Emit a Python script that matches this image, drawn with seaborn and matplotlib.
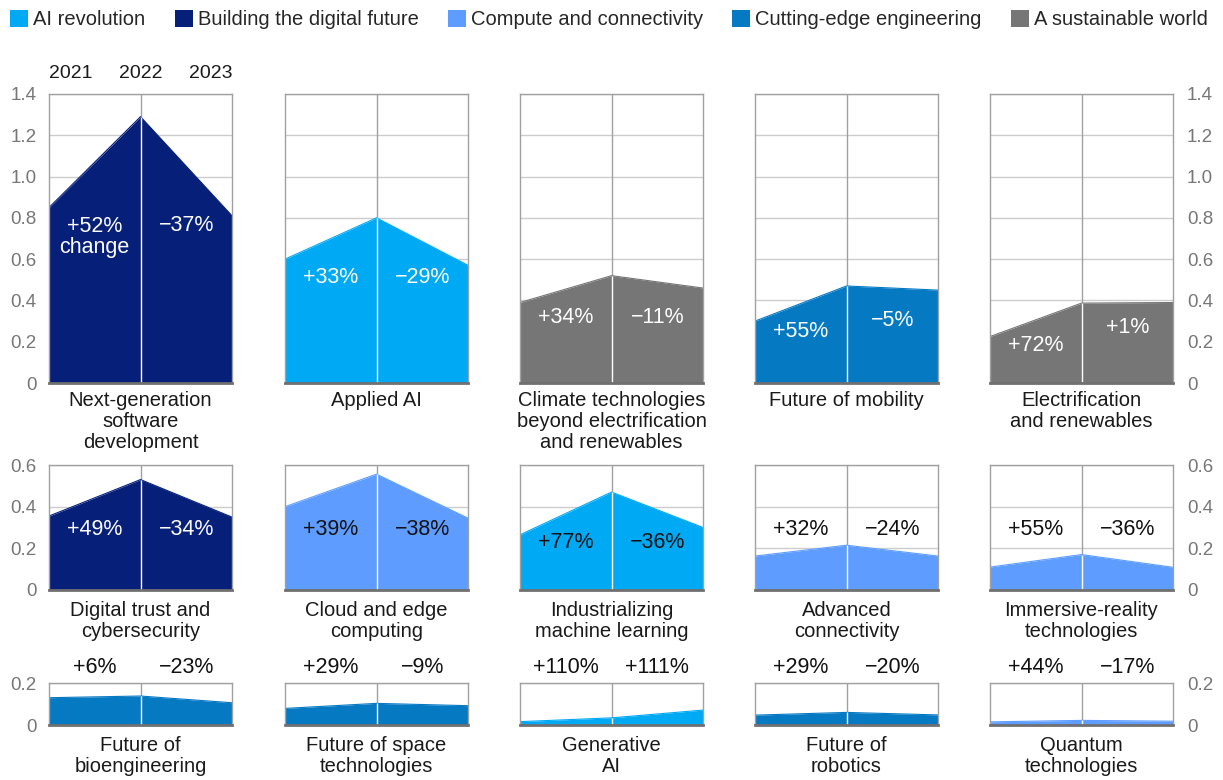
import numpy as np
import pandas as pd
import seaborn as sns
import matplotlib
matplotlib.use("Agg")
import matplotlib.pyplot as plt
from matplotlib.patches import Patch

# ---------------- data ----------------
years = [2021, 2022, 2023]

technologies = [
    "Next-generation\nsoftware\ndevelopment", "Applied AI",
    "Climate technologies\nbeyond electrification\nand renewables",
    "Future of mobility", "Electrification\nand renewables",
    "Digital trust and\ncybersecurity", "Cloud and edge\ncomputing",
    "Industrializing\nmachine learning", "Advanced\nconnectivity",
    "Immersive-reality\ntechnologies",
    "Future of\nbioengineering", "Future of space\ntechnologies",
    "Generative\nAI", "Future of\nrobotics", "Quantum\ntechnologies",
]

trends = [
    "Building the digital future", "AI revolution", "A sustainable world",
    "Cutting-edge engineering", "A sustainable world",
    "Building the digital future", "Compute and connectivity", "AI revolution",
    "Compute and connectivity", "Compute and connectivity",
    "Cutting-edge engineering", "Cutting-edge engineering", "AI revolution",
    "Cutting-edge engineering", "Compute and connectivity",
]

v2021 = [0.85, 0.60, 0.39, 0.30, 0.225, 0.355, 0.40, 0.265, 0.163, 0.11,
         0.13, 0.079, 0.016, 0.047, 0.015]
v2022 = [1.29, 0.80, 0.52, 0.47, 0.387, 0.53, 0.556, 0.47, 0.215, 0.17,
         0.138, 0.103, 0.034, 0.060, 0.022]
v2023 = [0.81, 0.57, 0.46, 0.45, 0.39, 0.35, 0.345, 0.30, 0.163, 0.109,
         0.106, 0.092, 0.071, 0.048, 0.018]

change_21_22 = ["+52%\nchange", "+33%", "+34%", "+55%", "+72%",
                "+49%", "+39%", "+77%", "+32%", "+55%",
                "+6%", "+29%", "+110%", "+29%", "+44%"]
change_22_23 = ["\u221237%", "\u221229%", "\u221211%", "\u22125%", "+1%",
                "\u221234%", "\u221238%", "\u221236%", "\u221224%", "\u221236%",
                "\u221223%", "\u22129%", "+111%", "\u221220%", "\u221217%"]

legend_trends = ["AI revolution", "Building the digital future",
                 "Compute and connectivity", "Cutting-edge engineering",
                 "A sustainable world"]

# ---------------- styles / layout ----------------
trend_colors = {
    "AI revolution": "#00A9F4",
    "Building the digital future": "#061F79",
    "Compute and connectivity": "#5E9DFF",
    "Cutting-edge engineering": "#0679C3",
    "A sustainable world": "#767676",
}
row_max = [1.4, 0.6, 0.2]
# label vertical positions (data units) for the two change labels
label_y_a = [0.705, 0.51, 0.315, 0.25, 0.184, 0.29, 0.29, 0.23, 0.29, 0.29,
             0.276, 0.276, 0.276, 0.276, 0.276]
label_y_b = [0.765, 0.51, 0.315, 0.305, 0.27, 0.29, 0.29, 0.23, 0.29, 0.29,
             0.276, 0.276, 0.276, 0.276, 0.276]
label_color = ["white"] * 6 + ["#111111"] * 9
cat_offset = [-6, -8, -8]   # points below each row's axes

sns.set_theme(style="white")
plt.rcParams["font.family"] = ["Liberation Sans", "DejaVu Sans"]

W, H = 1223, 780
fig = plt.figure(figsize=(W / 100, H / 100), dpi=100)

col_left = [49, 285, 520, 755, 990]
col_w = 183
row_top = [94, 465, 683]
row_bot = [383, 590, 725]

df = pd.DataFrame({
    "tech": np.repeat(technologies, 3),
    "year": years * len(technologies),
    "value": np.ravel(np.column_stack([v2021, v2022, v2023])),
})

FS_TICK = 13.5
FS_CAT = 14.5
FS_PCT = 15.5
FS_LEG = 14.5
FS_YEAR = 14

for i, tech in enumerate(technologies):
    r, c = divmod(i, 5)
    left = col_left[c] / W
    bottom = 1 - row_bot[r] / H
    height = (row_bot[r] - row_top[r]) / H
    ax = fig.add_axes([left, bottom, col_w / W, height])
    sub = df[df["tech"] == tech]
    color = trend_colors[trends[i]]

    ax.set_axisbelow(True)
    ax.axvline(2022, color="#a0a0a0", lw=1, zorder=0.6)
    ax.fill_between(sub["year"], 0, sub["value"], color=color, lw=0, zorder=1)
    sns.lineplot(data=sub, x="year", y="value", ax=ax, color=color, lw=0.8,
                 zorder=2, legend=False)
    ax.vlines(2022, 0, sub["value"].iloc[1], color="white", lw=1, zorder=3)

    ax.set_xlim(2021, 2023)
    ax.set_ylim(0, row_max[r])
    ticks = np.round(np.arange(0, row_max[r] + 0.001, 0.2), 1)
    ax.set_yticks(ticks)
    ax.set_xticks([])
    ax.set_xlabel("")
    ax.set_ylabel("")
    ax.grid(axis="y", color="#cccccc", lw=1)
    ax.grid(axis="x", visible=False)
    for s in ["left", "right", "top"]:
        ax.spines[s].set_color("#a0a0a0")
        ax.spines[s].set_linewidth(1)
        ax.spines[s].set_visible(True)
    ax.spines["bottom"].set_color("#707070")
    ax.spines["bottom"].set_linewidth(2)
    ax.spines["bottom"].set_zorder(4)

    tlabels = ["0" if t == 0 else f"{t:.1f}" for t in ticks]
    if c == 0:
        ax.set_yticklabels(tlabels)
        ax.tick_params(axis="y", length=0, pad=9, labelsize=FS_TICK,
                       labelcolor="#777777")
    elif c == 4:
        ax.yaxis.tick_right()
        ax.set_yticklabels(tlabels)
        ax.tick_params(axis="y", length=0, pad=10, labelsize=FS_TICK,
                       labelcolor="#777777", right=True, left=False,
                       labelright=True, labelleft=False)
    else:
        ax.set_yticklabels([])
        ax.tick_params(axis="y", length=0)

    # change labels
    ax.text(2021.5, label_y_a[i], change_21_22[i], ha="center", va="center",
            fontsize=FS_PCT, color=label_color[i], zorder=5, clip_on=False,
            linespacing=1.0)
    ax.text(2022.5, label_y_b[i], change_22_23[i], ha="center", va="center",
            fontsize=FS_PCT, color=label_color[i], zorder=5, clip_on=False)

    # category label
    ax.annotate(tech, xy=(0.5, 0), xycoords="axes fraction",
                xytext=(0, cat_offset[r]), textcoords="offset points",
                ha="center", va="top", fontsize=FS_CAT, color="#1a1a1a",
                linespacing=1.13)

    if i == 0:
        yy = row_max[0] + 20 / 206.4
        ax.text(2021, yy, "2021", ha="left", va="center", fontsize=FS_YEAR,
                color="#1a1a1a", clip_on=False)
        ax.text(2022, yy, "2022", ha="center", va="center", fontsize=FS_YEAR,
                color="#1a1a1a", clip_on=False)
        ax.text(2023, yy, "2023", ha="right", va="center", fontsize=FS_YEAR,
                color="#1a1a1a", clip_on=False)

handles = [Patch(facecolor=trend_colors[t], edgecolor="none") for t in legend_trends]
fig.legend(handles, legend_trends, loc="upper left", bbox_to_anchor=(0.0, 1.0),
           ncol=5, frameon=False, handlelength=0.9, handleheight=0.9,
           handletextpad=0.25, columnspacing=1.45, fontsize=FS_LEG,
           borderaxespad=0.3, borderpad=0.2)

fig.savefig("out.png", dpi=100)
